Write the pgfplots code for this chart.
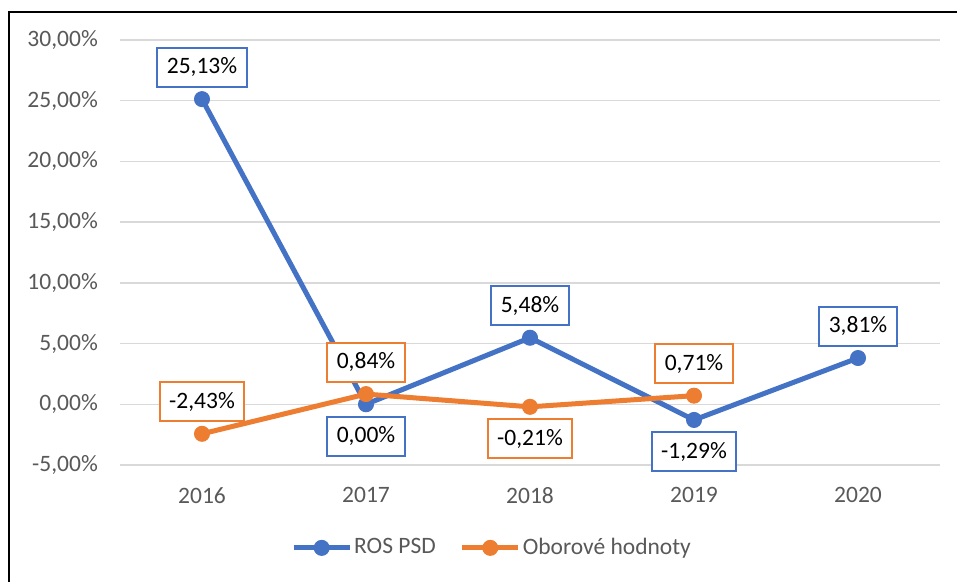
\documentclass[border=0pt]{standalone}
\usepackage{pgfplots}
\usepackage{pgfplotstable}
\pgfplotsset{compat=1.18}
\usepackage{fontspec}
\setmainfont{Carlito}
\definecolor{cblue}{HTML}{4472C4}
\definecolor{corange}{HTML}{ED7D31}
\definecolor{cgrid}{HTML}{D9D9D9}
\definecolor{ctick}{HTML}{595959}
\newcommand{\cf}{\fontsize{23.5}{28}\selectfont}

\pgfplotstableread{
x y pos
0 25.13 1
1 0.00 -1
2 5.48 1
3 -1.29 -1
4 3.81 1
}\ros
\pgfplotstableread{
x y pos
0 -2.43 1
1 0.84 1
2 -0.21 -1
3 0.71 1
}\obor

\begin{document}
\cf
\begin{tikzpicture}[x=1pt,y=1pt]
\useasboundingbox (0,0) rectangle (957,581);
\fill[white] (0,0) rectangle (957,581);
\draw[black, line width=2pt] (9,-5) -- (9,569) -- (962,569);
\begin{axis}[
  at={(120pt,116pt)}, anchor=south west, scale only axis,
  width=820pt, height=425pt,
  xmin=-0.5, xmax=4.5, ymin=-5, ymax=30,
  clip=false,
  axis line style={draw=none},
  major tick length=0pt,
  ytick={-5,0,5,10,15,20,25,30},
  yticklabels={{-5,00\%},{0,00\%},{5,00\%},{10,00\%},{15,00\%},{20,00\%},{25,00\%},{30,00\%}},
  xtick={0,1,2,3,4},
  xticklabels={2016,2017,2018,2019,2020},
  tick label style={font=\cf, text=ctick},
  yticklabel style={inner sep=0pt, xshift=-22pt},
  xticklabel style={inner sep=0pt, yshift=-22pt},
  ymajorgrids, major grid style={draw=cgrid, line width=1.5pt},
  legend style={at={(axis description cs:0.4537,-0.195)}, anchor=center,
    draw=none, fill=none, font=\cf, text=ctick, legend columns=2,
    /tikz/every even column/.append style={column sep=22pt},
    nodes={inner sep=2pt}},
  legend cell align=left,
  legend image code/.code={\draw[mark repeat=2,mark phase=2,#1] plot coordinates {(0pt,0pt) (28pt,0pt) (56pt,0pt)};},
  point meta=y,
  visualization depends on={\thisrow{pos}\as\pos},
  nodes near coords={\pgfmathprintnumber[fixed,fixed zerofill,precision=2,use comma,assume math mode=true]{\pgfplotspointmeta}\%},
  every node near coord/.append style={anchor=center, yshift=\pos*32pt,
     font=\cf, text=black, fill=white, line width=2pt,
     inner xsep=9.5pt, minimum height=39pt},
]
\addplot[cblue, line width=5pt, mark=*, mark size=7.5pt, mark options={solid, line width=1pt, fill=cblue},
  every node near coord/.append style={draw=cblue}]
  table[x=x, y=y] {\ros};
\addlegendentry{ROS PSD}
\addplot[corange, line width=5pt, mark=*, mark size=7.5pt, mark options={solid, line width=1pt, fill=corange},
  every node near coord/.append style={draw=corange}]
  table[x=x, y=y] {\obor};
\addlegendentry{Oborové hodnoty}
\end{axis}
\end{tikzpicture}
\end{document}
